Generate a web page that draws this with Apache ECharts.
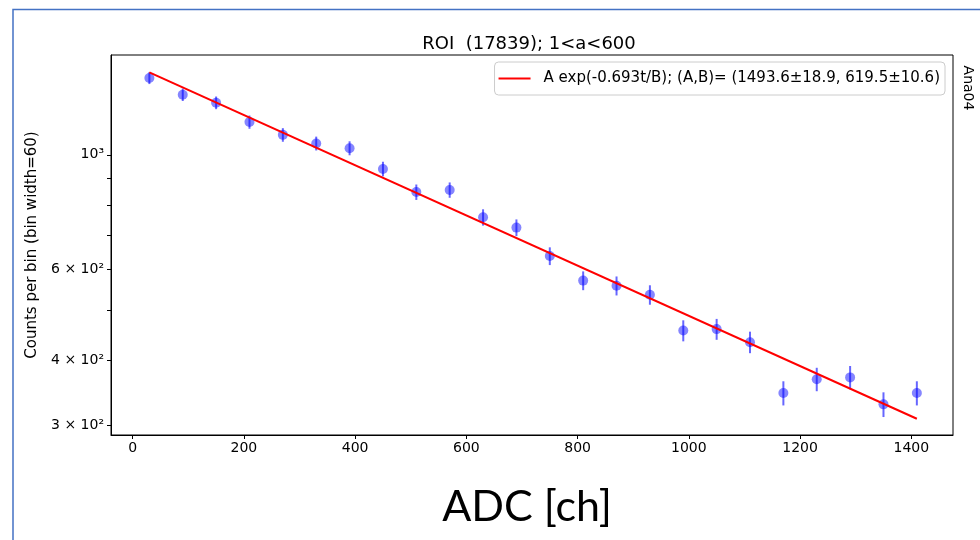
<!DOCTYPE html>
<html><head><meta charset="utf-8">
<script src="https://cdn.jsdelivr.net/npm/echarts@6/dist/echarts.min.js"></script>
<style>html,body{margin:0;padding:0;background:#fff}#c{width:980px;height:540px}</style>
</head><body><div id="c"></div>
<script>
// ---- data ----
const adc = [30,90,150,210,270,330,390,450,510,570,630,690,750,810,870,930,990,1050,1110,1170,1230,1290,1350,1410];
const counts = [1408,1307,1261,1157,1093,1052,1030,939,847,855,757,723,637,571,558,536,457,460,434,346,368,371,329,346];
const errors = [37.5,36.2,35.5,34.0,33.1,32.4,32.1,30.6,29.1,29.2,27.5,26.9,25.2,23.9,23.6,23.2,21.4,21.4,20.8,18.6,19.2,19.3,18.1,18.6];
const fitX = [30,1410];
const fitY = [1444,308.5];
const fitName = 'A exp(-0.693t/B); (A,B)= (1493.6±18.9, 619.5±10.6)';
const xTicks = [0,200,400,600,800,1000,1200,1400];
const yTicks = [300,400,500,600,700,800,900,1000];
const yLabelValues = [300,400,600,1000];
const yLabelTexts = ['3 × 10²','4 × 10²','6 × 10²','10³'];
const titleText = 'ROI  (17839); 1<a<600';
const yName = 'Counts per bin (bin width=60)';
const xName = 'ADC [ch]';
const sideText = 'Ana04';

const pointColor = 'rgba(0,0,255,0.6)';
const font = 'DejaVu Sans';

const chart = echarts.init(document.getElementById('c'), null, {renderer:'canvas'});
const option = {
  backgroundColor: '#fff',
  animation: false,
  textStyle: {fontFamily: font},
  title: {
    text: titleText, left: 524, top: 30, textAlign: 'center',
    textStyle: {fontFamily: font, fontSize: 18, fontWeight: 'normal', color: '#000'}
  },
  legend: {
    data: [fitName], right: 35, top: 62, orient: 'vertical',
    icon: 'rect', itemWidth: 32, itemHeight: 2, padding: [9, 5, 9, 4],
    borderColor: '#cccccc', borderWidth: 1, borderRadius: 4,
    backgroundColor: 'rgba(255,255,255,0.8)',
    textStyle: {fontFamily: font, fontSize: 15, color: '#000', padding: [0, 0, 0, 8]}
  },
  grid: {left: 111, top: 55, right: 27, bottom: 105, show: true, borderColor: '#000', borderWidth: 1, backgroundColor: '#fff'},
  xAxis: {
    type: 'value', min: -39, max: 1475,
    name: xName, nameLocation: 'middle', nameGap: 51,
    nameTextStyle: {fontFamily: 'Lato', fontSize: 43, color: '#000', padding: [0, 10, 0, 0]},
    axisLine: {show: true, onZero: false, lineStyle: {color: '#000', width: 1}},
    axisTick: {show: true, length: 4, lineStyle: {color: '#000'}, customValues: xTicks},
    axisLabel: {color: '#000', fontSize: 14, fontFamily: font, margin: 6, customValues: xTicks,
      formatter: function (v) { return String(Math.round(v)); }},
    splitLine: {show: false}
  },
  yAxis: {
    type: 'log', logBase: 10, min: 287, max: 1560,
    name: yName, nameLocation: 'middle', nameRotate: 90, nameGap: 71,
    nameTextStyle: {fontFamily: font, fontSize: 15, color: '#000'},
    axisLine: {show: true, onZero: false, lineStyle: {color: '#000', width: 1}},
    axisTick: {show: true, length: 4, lineStyle: {color: '#000'}, customValues: yTicks},
    axisLabel: {
      color: '#000', fontSize: 14, fontFamily: font, margin: 7, customValues: yLabelValues,
      formatter: function (v) {
        const i = yLabelValues.findIndex(t => Math.abs(t - v) < 1);
        return i >= 0 ? yLabelTexts[i] : '';
      }
    },
    splitLine: {show: false}, minorTick: {show: false}
  },
  series: [
    {
      type: 'custom', name: 'err', silent: true, z: 3,
      data: adc.map((x, i) => [x, counts[i], errors[i]]),
      renderItem: function (params, api) {
        const x = api.value(0), y = api.value(1), e = api.value(2);
        const p1 = api.coord([x, y - e]);
        const p2 = api.coord([x, y + e]);
        return {type: 'line', shape: {x1: p1[0], y1: p1[1], x2: p2[0], y2: p2[1]},
          style: {stroke: pointColor, lineWidth: 2}};
      }
    },
    {
      type: 'scatter', name: 'data', symbol: 'circle', symbolSize: 10, z: 4,
      itemStyle: {color: pointColor},
      data: adc.map((x, i) => [x, counts[i]])
    },
    {
      type: 'line', name: fitName, symbol: 'none', showSymbol: false, z: 5,
      lineStyle: {color: '#ff0000', width: 2}, itemStyle: {color: '#ff0000'},
      data: fitX.map((x, i) => [x, fitY[i]])
    }
  ],
  graphic: [
    {type: 'polyline', silent: true, shape: {points: [[13, 540], [13, 9.5], [980, 9.5]]},
      style: {stroke: '#4472C4', lineWidth: 1.5, fill: null}},
    {type: 'text', silent: true, x: 968, y: 88, rotation: -Math.PI / 2,
      style: {text: sideText, fontFamily: font, fontSize: 14, fill: '#000', align: 'center', verticalAlign: 'middle'}}
  ]
};
chart.setOption(option);
</script></body></html>
